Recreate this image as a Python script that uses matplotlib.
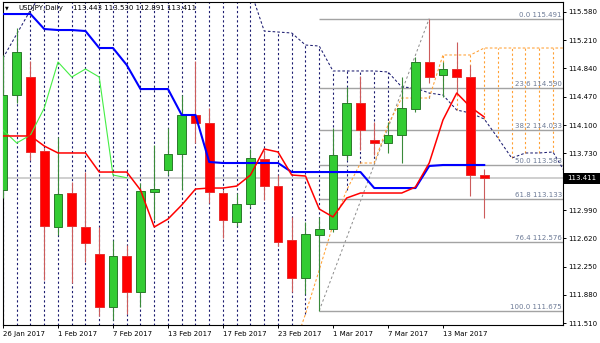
import numpy as np
import matplotlib
matplotlib.use('Agg')
import matplotlib.pyplot as plt
from matplotlib.patches import Rectangle

# daily bars, 26 Jan 2017 .. 16 Mar 2017
opens = [113.251, 114.492, 114.727, 113.761, 112.768, 113.212, 112.768, 112.415, 111.723, 112.389,
         111.919, 113.225, 113.512, 113.721, 114.231, 114.126, 113.212, 112.833, 113.068, 113.656,
         113.303, 112.598, 112.102, 112.663, 112.742, 113.708, 114.388, 113.904, 113.865, 113.970,
         114.309, 114.923, 114.753, 114.832, 114.727, 113.443]
highs = [115.015, 115.367, 114.936, 113.800, 113.944, 113.356, 113.486, 112.768, 112.598, 112.533,
         113.343, 113.839, 114.061, 114.492, 114.936, 114.322, 113.251, 113.212, 113.787, 113.774,
         113.447, 112.899, 112.833, 112.899, 114.061, 114.597, 114.740, 114.139, 114.139, 114.727,
         114.988, 115.491, 114.923, 115.184, 114.884, 113.530]
lows = [113.147, 114.388, 113.643, 112.076, 112.663, 112.036, 112.311, 111.605, 111.553, 111.632,
        111.723, 112.859, 113.447, 113.251, 113.865, 113.081, 112.624, 112.781, 113.029, 113.121,
        112.520, 111.919, 111.893, 111.675, 112.703, 113.643, 113.774, 113.708, 113.735, 113.604,
        114.270, 114.649, 114.466, 114.518, 113.173, 112.891]
closes = [114.492, 115.054, 113.748, 112.781, 113.199, 112.781, 112.559, 111.723, 112.389, 111.919,
          113.238, 113.264, 113.721, 114.231, 114.126, 113.225, 112.859, 113.068, 113.669, 113.303,
          112.572, 112.102, 112.676, 112.742, 113.708, 114.388, 114.035, 113.865, 113.970, 114.322,
          114.923, 114.727, 114.832, 114.727, 113.447, 113.411]

# ichimoku lines
tenkan = [113.957, 113.957, 113.957, 113.826, 113.735, 113.735, 113.735, 113.486, 113.486, 113.486,
          113.251, 112.768, 112.872, 113.055, 113.264, 113.277, 113.277, 113.303, 113.447, 113.787,
          113.748, 113.447, 113.434, 113.003, 112.899, 113.147, 113.212, 113.212, 113.212, 113.212,
          113.290, 113.604, 114.166, 114.518, 114.335, 114.205]
kijun = [115.550, 115.550, 115.550, 115.354, 115.341, 115.341, 115.328, 115.106, 115.106, 114.884,
         114.570, 114.570, 114.570, 114.231, 114.231, 113.617, 113.604, 113.604, 113.604, 113.604,
         113.604, 113.486, 113.486, 113.486, 113.486, 113.486, 113.486, 113.277, 113.277, 113.277,
         113.277, 113.565, 113.578, 113.578, 113.578, 113.578]
chikou = [114.035, 113.865, 113.970, 114.322, 114.923, 114.727, 114.832, 114.727, 113.447, 113.411]
# cloud, 42 bars (runs past the last candle)
senkou_a = [114.975, 115.289, 115.602, 115.860, 115.860, 115.860, 115.860, 115.860, 115.860, 115.860,
            115.860, 115.860, 115.860, 115.860, 115.860, 115.860, 115.860, 115.860, 115.860, 115.328,
            115.315, 115.302, 115.145, 115.132, 114.806, 114.806, 114.806, 114.806, 114.793, 114.597,
            114.584, 114.518, 114.492, 114.296, 114.257, 114.179, 113.930, 113.669, 113.735, 113.735,
            113.748, 113.447]
senkou_b = [111.000, 111.000, 111.000, 111.000, 111.000, 111.000, 111.000, 111.000, 111.000, 111.000,
            111.000, 111.000, 111.000, 111.000, 111.000, 111.000, 111.000, 111.000, 111.000, 111.000,
            111.000, 111.109, 111.632, 112.206, 112.794, 113.251, 113.604, 113.604, 114.100, 114.453,
            114.453, 114.453, 115.015, 115.015, 115.015, 115.106, 115.106, 115.106, 115.106, 115.106,
            115.106, 115.106]

# fibonacci retracement (Feb 28 low -> Mar 10 high)
fib_pct = ['0.0', '23.6', '38.2', '50.0', '61.8', '76.4', '100.0']
fib_price = [115.491, 114.590, 114.033, 113.583, 113.133, 112.576, 111.675]

date_labels = ['26 Jan 2017', '1 Feb 2017', '7 Feb 2017', '13 Feb 2017', '17 Feb 2017',
               '23 Feb 2017', '1 Mar 2017', '7 Mar 2017', '13 Mar 2017']
date_bars = [0, 4, 8, 12, 16, 20, 24, 28, 32]
price_ticks = [111.510, 111.880, 112.250, 112.620, 112.990, 113.360,
               113.730, 114.100, 114.470, 114.840, 115.210, 115.580]
bid = 113.411

fs = 5
fig = plt.figure(figsize=(6, 3.43), dpi=100)
ax = fig.add_axes([3 / 600, 18 / 343, 560 / 600, 323 / 343])
xmax = 40.73
ax.set_xlim(0, xmax)
ax.set_ylim(111.488, 115.707)

# cloud hatching
xc = np.arange(len(senkou_a))
sa = np.array(senkou_a)
sb = np.array(senkou_b)
down = sa >= sb
ax.vlines(xc[down], sb[down], sa[down], color='#1c1c70', lw=0.8,
          linestyles=(0, (2, 2.2)), zorder=1)
ax.vlines(xc[~down], sa[~down], sb[~down], color='#ffa033', lw=0.8,
          linestyles=(0, (2, 2.2)), zorder=1)
ax.plot(xc, sa, color='#1c1c70', lw=0.75, ls=(0, (2.5, 2)), zorder=2)
ax.plot(xc, sb, color='#ffa033', lw=0.75, ls=(0, (2.5, 2)), zorder=2)

# bid line
ax.axhline(bid, color='#cccccc', lw=1.3, zorder=1.2)

# fibonacci
ax.plot([23, 31], [fib_price[-1], fib_price[0]], color='#8a8a8a', lw=0.7,
        ls=(0, (2.5, 2.5)), zorder=1.5)
ax.hlines(fib_price, 23, xmax, color='#a3a3a3', lw=1.0, zorder=1.5)
for pct, p in zip(fib_pct, fib_price):
    ax.text(xmax - 0.08, p + 0.012, f'{pct} {p:.3f}', ha='right', va='bottom',
            fontsize=fs, color='#6c7a96', zorder=2)

# candles
x = np.arange(len(opens))
o = np.array(opens)
c = np.array(closes)
h = np.array(highs)
l = np.array(lows)
up = c >= o
lo = np.minimum(o, c)
ht = np.maximum(np.abs(c - o), 0.02)
ax.vlines(x[up], l[up], h[up], color='#3a8a3a', lw=0.8, zorder=3)
ax.vlines(x[~up], l[~up], h[~up], color='#cc5c5c', lw=0.8, zorder=3)
ax.bar(x[up], ht[up], 0.64, bottom=lo[up], color='#33cc33', edgecolor='#2a7a2a',
       lw=0.7, zorder=3.5)
ax.bar(x[~up], ht[~up], 0.64, bottom=lo[~up], color='#ff0000', edgecolor='#e83030',
       lw=0.7, zorder=3.5)

# lines on top
ax.plot(np.arange(len(chikou)), chikou, color='#44ee44', lw=0.8, zorder=4)
ax.plot(np.arange(len(kijun)), kijun, color='#0000ff', lw=1.5, zorder=4)
ax.plot(np.arange(len(tenkan)), tenkan, color='#ff0000', lw=1.1, zorder=4.2)

# axes
for s in ax.spines.values():
    s.set_color('black')
    s.set_linewidth(0.8)
ax.yaxis.tick_right()
ax.set_yticks(price_ticks)
ax.set_yticklabels([f'{v:.3f}' for v in price_ticks])
ax.set_xticks(date_bars)
ax.set_xticklabels(date_labels, ha='left')
ax.tick_params(axis='both', length=2.5, width=0.7, pad=1.5, labelsize=fs,
               direction='out', colors='black')

# title
fig.text(5 / 600, 1 - 8 / 343, '\u25bc', fontsize=3.5, va='center')
fig.text(18 / 600, 1 - 8 / 343, 'USDJPY,Daily', fontsize=fs, va='center')
fig.text(73 / 600, 1 - 8 / 343, '113.443 113.530 112.891 113.411', fontsize=fs, va='center')

# current price box, sits over the 113.360 label as in the terminal
fig.add_artist(Rectangle((563 / 600, 1 - 184 / 343), 37 / 600, 11 / 343,
                         transform=fig.transFigure, facecolor='black', edgecolor='none',
                         zorder=5))
fig.text(567 / 600, 1 - 178.3 / 343, '113.411', fontsize=fs, color='white',
         va='center', zorder=6)

fig.savefig('out.png', dpi=100)
